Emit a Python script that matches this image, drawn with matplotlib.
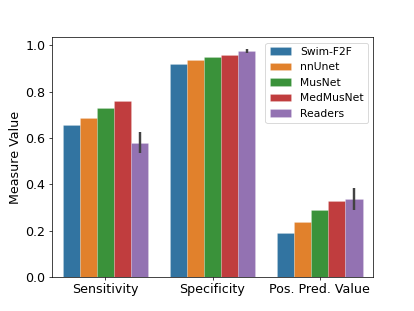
import matplotlib as mpl
mpl.use('Agg')
from matplotlib import pyplot as plt
import numpy as np
import seaborn as sns

measures = ['Sensitivity', 'Specificity', 'Pos. Pred. Value']
methods = ['Swim-F2F', 'nnUnet', 'MusNet', 'MedMusNet', 'Readers']

# bar heights per method, in order of measures
values = {
    'Swim-F2F':  [0.658, 0.919, 0.188],
    'nnUnet':    [0.688, 0.938, 0.238],
    'MusNet':    [0.728, 0.948, 0.289],
    'MedMusNet': [0.759, 0.960, 0.328],
    'Readers':   [0.580, 0.977, 0.338],
}
# confidence interval for readers (low, high)
readers_ci_low = [0.536, 0.967, 0.289]
readers_ci_high = [0.625, 0.986, 0.385]


def main():
    mpl.rcParams.update({'font.size': 14})
    fig, ax = plt.subplots(figsize=(6.4, 4.8), dpi=64.8)

    colors = [sns.desaturate(c, 0.75) for c in sns.color_palette('tab10', len(methods))]
    n = len(methods)
    width = 0.8 / n
    x = np.arange(len(measures))

    for i, m in enumerate(methods):
        pos = x - 0.4 + width * (i + 0.5)
        ax.bar(pos, values[m], width=width, color=colors[i], label=m,
               edgecolor=(1, 1, 1, 0.3), linewidth=0.6)
        if m == 'Readers':
            ax.vlines(pos, readers_ci_low, readers_ci_high, color='.26',
                      linewidth=2.7)

    ax.set_xticks(x)
    ax.set_xticklabels(measures)
    ax.set_xlim(-0.5, len(measures) - 0.5)
    ax.set_ylim(0, 1.035)
    ax.set_ylabel('Measure Value')
    ax.legend(loc='upper right', fontsize=12)

    plt.savefig('out.png', dpi=64.8)


if __name__ == '__main__':
    main()
